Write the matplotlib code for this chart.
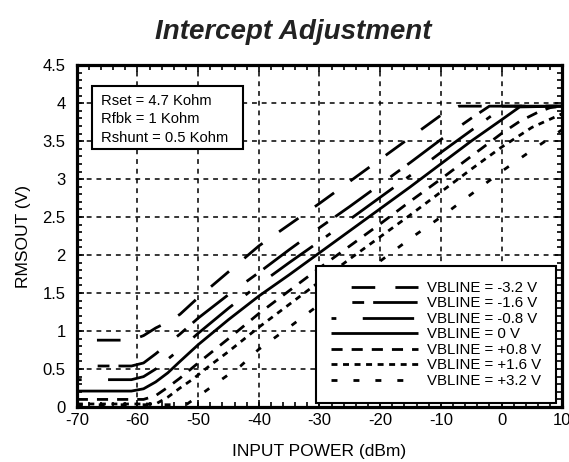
import matplotlib
matplotlib.use("Agg")
import matplotlib.pyplot as plt
from matplotlib.ticker import MultipleLocator, FuncFormatter
from matplotlib.patches import Rectangle

plt.rcParams['font.family'] = ['Liberation Sans', 'DejaVu Sans']
plt.rcParams['lines.scale_dashes'] = False

# ---- data ----
x_m32 = [-70, -61, -59, -57, -55, -53, -50, -45, -40, -35, -30, -25, -20, -15, -10, -7, 10]
y_m32 = [0.88, 0.88, 0.94, 1.04, 1.12, 1.22, 1.44, 1.78, 2.12, 2.40, 2.68, 2.97, 3.26, 3.55, 3.84, 3.96, 3.96]

x_m16 = [-70, -61, -59, -57, -55, -53, -50, -45, -40, -35, -30, -25, -20, -15, -10, -5, -2, 10]
y_m16 = [0.54, 0.54, 0.58, 0.70, 0.83, 0.96, 1.17, 1.48, 1.77, 2.07, 2.36, 2.64, 2.93, 3.22, 3.52, 3.80, 3.96, 3.96]

x_m08 = [-70, -61, -59, -57, -55, -53, -50, -45, -40, -35, -30, -25, -20, -15, -10, -5, 0, 1, 10]
y_m08 = [0.36, 0.36, 0.40, 0.50, 0.63, 0.76, 0.97, 1.30, 1.61, 1.90, 2.18, 2.47, 2.76, 3.05, 3.35, 3.64, 3.93, 3.96, 3.96]

x_0 = [-70, -61, -59, -57, -55, -53, -50, -45, -40, -35, -30, -25, -20, -15, -10, -5, 0, 3, 10]
y_0 = [0.21, 0.21, 0.24, 0.33, 0.45, 0.60, 0.82, 1.15, 1.46, 1.74, 2.03, 2.32, 2.61, 2.90, 3.20, 3.50, 3.78, 3.95, 3.96]

x_p08 = [-70, -59, -57, -55, -53, -50, -45, -40, -35, -30, -25, -20, -15, -10, -5, 0, 3, 6, 8, 10]
y_p08 = [0.10, 0.10, 0.15, 0.26, 0.38, 0.58, 0.90, 1.23, 1.53, 1.83, 2.12, 2.41, 2.71, 3.00, 3.30, 3.60, 3.76, 3.88, 3.94, 3.96]

x_p16 = [-70, -57, -55, -53, -51, -48, -45, -40, -35, -30, -25, -20, -15, -10, -5, 0, 5, 10]
y_p16 = [0.04, 0.04, 0.13, 0.25, 0.36, 0.55, 0.73, 1.05, 1.35, 1.65, 1.95, 2.24, 2.53, 2.83, 3.13, 3.42, 3.68, 3.86]

x_p32 = [-70, -52, -50, -46, -43, -40, -35, -30, -25, -20, -15, -10, -5, 0, 5, 10]
y_p32 = [0.03, 0.03, 0.14, 0.37, 0.54, 0.76, 1.05, 1.35, 1.63, 1.92, 2.22, 2.50, 2.80, 3.10, 3.38, 3.65]

labels = ["VBLINE = -3.2 V", "VBLINE = -1.6 V", "VBLINE = -0.8 V", "VBLINE = 0 V",
          "VBLINE = +0.8 V", "VBLINE = +1.6 V", "VBLINE = +3.2 V"]

x_ticks = [-70, -60, -50, -40, -30, -20, -10, 0, 10]
y_ticks = [0, 0.5, 1, 1.5, 2, 2.5, 3, 3.5, 4, 4.5]

note_lines = ["Rset = 4.7 Kohm", "Rfbk = 1 Kohm", "Rshunt = 0.5 Kohm"]

series = [(x_m32, y_m32), (x_m16, y_m16), (x_m08, y_m08), (x_0, y_0),
          (x_p08, y_p08), (x_p16, y_p16), (x_p32, y_p32)]
styles = [
    (17, (17, 14.5)),
    (34, (32, 17, 8.5, 6.5)),
    (49, (37, 11.5, 4, 19)),
    '-',
    (0, (8, 6.5)),
    (0, (4.3, 4.0)),
    (0, (4.3, 11.5)),
]

fig = plt.figure(figsize=(5.69, 4.62), dpi=100)
ax = fig.add_axes([0.135, 0.119, 0.853, 0.740])

for (xs, ys), ls, lab in zip(series, styles, labels):
    ax.plot(xs, ys, color='black', linewidth=2.0, linestyle=ls, label=lab,
            solid_capstyle='butt', dash_capstyle='butt')

ax.set_xlim(-70, 10)
ax.set_ylim(0, 4.5)
ax.set_xticks(x_ticks)
ax.set_yticks(y_ticks)
ax.xaxis.set_minor_locator(MultipleLocator(2))
ax.yaxis.set_minor_locator(MultipleLocator(0.1))
ax.yaxis.set_major_formatter(FuncFormatter(lambda v, p: f"{v:g}"))
ax.xaxis.set_major_formatter(FuncFormatter(lambda v, p: f"{v:g}"))

ax.tick_params(which='both', direction='in', top=True, right=True, colors='black')
ax.tick_params(which='major', length=5, width=1.2, labelsize=12)
ax.tick_params(which='minor', length=3.5, width=1.2)
ax.tick_params(axis='y', which='major', pad=8)
ax.tick_params(axis='x', which='major', pad=4)

for sp in ax.spines.values():
    sp.set_linewidth(2.3)
    sp.set_color('black')

ax.grid(True, which='major', color='black', linestyle=(0, (3.5, 3.5)), linewidth=1.1)
ax.set_axisbelow(True)

ax.set_xlabel("INPUT POWER (dBm)", fontsize=12.5, labelpad=12)
ax.set_ylabel("RMSOUT (V)", fontsize=12.5, labelpad=8)

fig.text(0.515, 0.93, "Intercept Adjustment", fontsize=20, fontweight='bold',
         fontstyle='italic', ha='center', va='center', color='#222222')

# note box
ax.add_patch(Rectangle((0.031, 0.754), 0.312, 0.185, transform=ax.transAxes,
                       facecolor='white', edgecolor='black', linewidth=1.5, zorder=5))
ax.text(0.049, 0.915, "\n".join(note_lines), transform=ax.transAxes,
        fontsize=10.6, va='top', ha='left', linespacing=1.38, zorder=6)

leg = ax.legend(loc='lower right', bbox_to_anchor=(0.988, 0.012), fontsize=10.8,
                handlelength=5.8, handletextpad=0.6, labelspacing=0.1,
                borderpad=1.0, borderaxespad=0.0, fancybox=False, framealpha=1,
                edgecolor='black')
leg.get_frame().set_linewidth(1.5)
leg.set_zorder(6)

fig.savefig("out.png", dpi=100)
